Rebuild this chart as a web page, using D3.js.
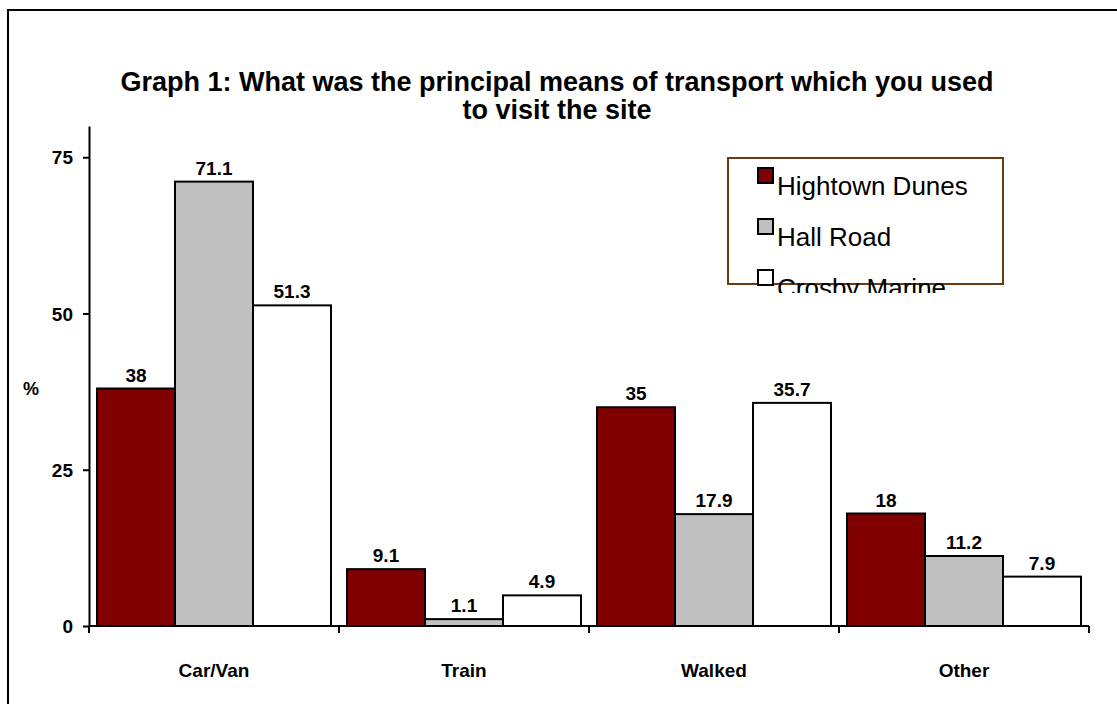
<!DOCTYPE html>
<html>
<head>
<meta charset="utf-8">
<script src="https://cdn.jsdelivr.net/npm/d3@7"></script>
<style>
  body { margin: 0; background: #fff; }
  svg { display: block; font-family: "Liberation Sans", Arial, sans-serif; }
</style>
</head>
<body>
<svg id="graph" width="1117" height="704"></svg>
<script>
// chart data
var categories = ["Car/Van", "Train", "Walked", "Other"];
var seriesNames = ["Hightown Dunes", "Hall Road", "Crosby Marine"];
var hightown = [38, 9.1, 35, 18];
var hallRoad = [71.1, 1.1, 17.9, 11.2];
var crosby = [51.3, 4.9, 35.7, 7.9];
var yTicks = [0, 25, 50, 75];
var colors = ["#800000", "#c0c0c0", "#ffffff"];

var seriesValues = [hightown, hallRoad, crosby];

const svg = d3.select('#graph');

// outer frame (only top and left edges are visible in the picture)
svg.append("rect")
  .attr("x", 8).attr("y", 10)
  .attr("width", 1300).attr("height", 900)
  .attr("fill", "none").attr("stroke", "#000").attr("stroke-width", 2);

// title
const title = svg.append("text")
  .attr("text-anchor", "middle")
  .style("font-weight", "bold").style("font-size", "27px");
title.append("tspan").attr("x", 557).attr("y", 91).text("Graph 1: What was the principal means of transport which you used");
title.append("tspan").attr("x", 557).attr("y", 119).text("to visit the site");

// scales
const x0 = d3.scaleBand().domain(categories).range([89, 1089]);
const x1 = d3.scaleBand().domain(seriesNames).range([8, 242]);
const y = d3.scaleLinear().domain([0, 80]).range([626, 126]);

// bars
const groups = svg.selectAll(".cat")
  .data(categories)
  .join("g")
  .attr("class", "cat")
  .attr("transform", d => `translate(${x0(d)},0)`);

groups.each(function(cat, ci) {
  const g = d3.select(this);
  const rows = seriesNames.map((s, si) => ({ s: s, v: seriesValues[si][ci], i: si }));
  g.selectAll("rect")
    .data(rows)
    .join("rect")
    .attr("x", d => x1(d.s))
    .attr("y", d => y(d.v))
    .attr("width", x1.bandwidth())
    .attr("height", d => y(0) - y(d.v))
    .attr("fill", d => colors[d.i])
    .attr("stroke", "#000").attr("stroke-width", 2);
  g.selectAll("text")
    .data(rows)
    .join("text")
    .attr("x", d => x1(d.s) + x1.bandwidth() / 2)
    .attr("y", d => y(d.v) - 7)
    .attr("text-anchor", "middle")
    .style("font-weight", "bold").style("font-size", "19px")
    .text(d => d.v);
});

// y axis
const yAxis = svg.append("g").attr("transform", "translate(89,0)")
  .call(d3.axisLeft(y).tickValues(yTicks).tickSize(6).tickSizeOuter(0));
yAxis.select(".domain").attr("stroke-width", 2);
yAxis.selectAll(".tick line").attr("stroke-width", 2);
yAxis.selectAll("text").attr("x", -16).attr("dy", "0.35em")
  .style("font-weight", "bold").style("font-size", "19px")
  .style("font-family", "Liberation Sans, Arial, sans-serif");

// x axis (ticks between categories)
svg.append("line")
  .attr("x1", 89).attr("x2", 1089).attr("y1", y(0)).attr("y2", y(0))
  .attr("stroke", "#000").attr("stroke-width", 2);
const bounds = categories.map(c => x0(c)).concat([x0.range()[1]]);
svg.selectAll(".xtick")
  .data(bounds)
  .join("line")
  .attr("class", "xtick")
  .attr("x1", d => d).attr("x2", d => d)
  .attr("y1", y(0)).attr("y2", y(0) + 7)
  .attr("stroke", "#000").attr("stroke-width", 2);
svg.selectAll(".xlabel")
  .data(categories)
  .join("text")
  .attr("class", "xlabel")
  .attr("x", d => x0(d) + x0.bandwidth() / 2)
  .attr("y", 677)
  .attr("text-anchor", "middle")
  .style("font-weight", "bold").style("font-size", "19px")
  .text(d => d);

// y axis label
svg.append("text")
  .attr("x", 31).attr("y", 395)
  .attr("text-anchor", "middle")
  .style("font-weight", "bold").style("font-size", "18px")
  .text("%");

// legend
svg.append("defs").append("clipPath").attr("id", "legclip")
  .append("rect").attr("x", 700).attr("y", 150).attr("width", 330).attr("height", 143);
svg.append("rect")
  .attr("x", 728).attr("y", 158).attr("width", 275).attr("height", 126)
  .attr("fill", "#fff").attr("stroke", "#6b3a10").attr("stroke-width", 2);
const leg = svg.append("g").attr("clip-path", "url(#legclip)")
  .selectAll("g")
  .data(seriesNames)
  .join("g")
  .attr("transform", (d, i) => `translate(758,${168 + i * 51})`);
leg.append("rect")
  .attr("width", 15).attr("height", 15)
  .attr("fill", (d, i) => colors[i])
  .attr("stroke", "#000").attr("stroke-width", 2);
leg.append("text")
  .attr("x", 19).attr("y", 27)
  .style("font-size", "26px")
  .text(d => d);
</script>
</body>
</html>
